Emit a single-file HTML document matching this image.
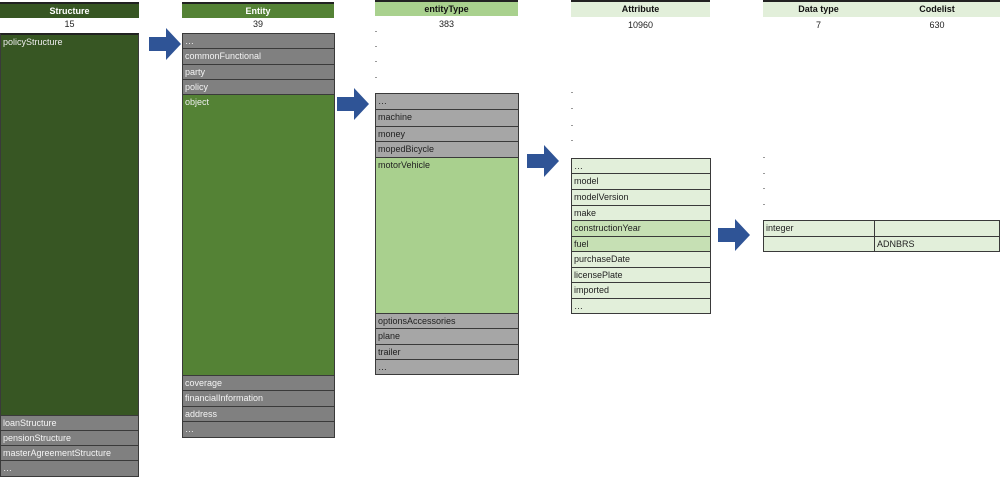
<!DOCTYPE html>
<html><head><meta charset="utf-8"><style>
body{margin:0;width:1000px;height:476px;position:relative;background:#fff;overflow:hidden;font-family:"Liberation Sans",sans-serif;}
div{position:absolute;box-sizing:border-box;}
.h{font-weight:bold;font-size:9px;text-align:center;line-height:14px;color:#111;border-top:2px solid #222;}
.n{font-size:9px;text-align:center;color:#222;}
.r{font-size:9px;line-height:14px;padding-left:2px;border:1px solid #3a3a3a;white-space:nowrap;overflow:hidden;}
.dw{background:#808080;color:#f4f4f4;}
.lg{background:#a6a6a6;color:#222;}
.lt{background:#e2efda;color:#222;}
.md{background:#c6e0b4;color:#222;}
.dot{width:2px;height:1px;background:#999;}
</style></head><body>
<!-- Structure -->
<div class="h" style="left:0;top:2px;width:139px;height:16px;background:#375623;color:#fff">Structure</div>
<div class="n" style="left:0;top:19px;width:139px">15</div>
<div class="r" style="left:0;top:33px;width:139px;height:383px;background:#375623;color:#eee;border-top:2px solid #222">policyStructure</div>
<div class="r dw" style="left:0;top:415px;width:139px;height:16px">loanStructure</div>
<div class="r dw" style="left:0;top:430px;width:139px;height:16px">pensionStructure</div>
<div class="r dw" style="left:0;top:445px;width:139px;height:16px">masterAgreementStructure</div>
<div class="r dw" style="left:0;top:460px;width:139px;height:17px">…</div>
<!-- Entity -->
<div class="h" style="left:182px;top:2px;width:152px;height:16px;background:#548235;color:#fff">Entity</div>
<div class="n" style="left:182px;top:19px;width:152px">39</div>
<div class="r dw" style="left:182px;top:33px;width:153px;height:16px">…</div>
<div class="r dw" style="left:182px;top:48px;width:153px;height:17px">commonFunctional</div>
<div class="r dw" style="left:182px;top:64px;width:153px;height:16px">party</div>
<div class="r dw" style="left:182px;top:79px;width:153px;height:16px">policy</div>
<div class="r" style="left:182px;top:94px;width:153px;height:282px;background:#548235;color:#eee">object</div>
<div class="r dw" style="left:182px;top:375px;width:153px;height:16px">coverage</div>
<div class="r dw" style="left:182px;top:390px;width:153px;height:17px">financialInformation</div>
<div class="r dw" style="left:182px;top:406px;width:153px;height:16px">address</div>
<div class="r dw" style="left:182px;top:421px;width:153px;height:17px">…</div>
<!-- entityType -->
<div class="h" style="left:375px;top:0;width:143px;height:16px;background:#a9d18e">entityType</div>
<div class="n" style="left:375px;top:19px;width:143px">383</div>
<div class="dot" style="left:375px;top:31px"></div><div class="dot" style="left:375px;top:46px"></div><div class="dot" style="left:375px;top:61px"></div><div class="dot" style="left:375px;top:77px"></div>
<div class="r lg" style="left:375px;top:93px;width:144px;height:17px">…</div>
<div class="r lg" style="left:375px;top:109px;width:144px;height:18px">machine</div>
<div class="r lg" style="left:375px;top:126px;width:144px;height:16px">money</div>
<div class="r lg" style="left:375px;top:141px;width:144px;height:17px">mopedBicycle</div>
<div class="r" style="left:375px;top:157px;width:144px;height:157px;background:#a9d08e;color:#222">motorVehicle</div>
<div class="r lg" style="left:375px;top:313px;width:144px;height:16px">optionsAccessories</div>
<div class="r lg" style="left:375px;top:328px;width:144px;height:17px">plane</div>
<div class="r lg" style="left:375px;top:344px;width:144px;height:16px">trailer</div>
<div class="r lg" style="left:375px;top:359px;width:144px;height:16px">…</div>
<!-- Attribute -->
<div class="h" style="left:571px;top:0;width:139px;height:17px;background:#e2efda">Attribute</div>
<div class="n" style="left:571px;top:20px;width:139px">10960</div>
<div class="dot" style="left:571px;top:92px"></div><div class="dot" style="left:571px;top:108px"></div><div class="dot" style="left:571px;top:125px"></div><div class="dot" style="left:571px;top:140px"></div>
<div class="r lt" style="left:571px;top:158px;width:140px;height:16px">…</div>
<div class="r lt" style="left:571px;top:173px;width:140px;height:17px">model</div>
<div class="r lt" style="left:571px;top:189px;width:140px;height:17px">modelVersion</div>
<div class="r lt" style="left:571px;top:205px;width:140px;height:16px">make</div>
<div class="r md" style="left:571px;top:220px;width:140px;height:17px">constructionYear</div>
<div class="r md" style="left:571px;top:236px;width:140px;height:16px">fuel</div>
<div class="r lt" style="left:571px;top:251px;width:140px;height:17px">purchaseDate</div>
<div class="r lt" style="left:571px;top:267px;width:140px;height:16px">licensePlate</div>
<div class="r lt" style="left:571px;top:282px;width:140px;height:17px">imported</div>
<div class="r lt" style="left:571px;top:298px;width:140px;height:16px">…</div>
<!-- Data type / Codelist -->
<div class="h" style="left:763px;top:0;width:111px;height:17px;background:#e2efda">Data type</div>
<div class="h" style="left:874px;top:0;width:126px;height:17px;background:#e2efda">Codelist</div>
<div class="n" style="left:763px;top:20px;width:111px">7</div>
<div class="n" style="left:874px;top:20px;width:126px">630</div>
<div class="dot" style="left:763px;top:157px"></div><div class="dot" style="left:763px;top:173px"></div><div class="dot" style="left:763px;top:188px"></div><div class="dot" style="left:763px;top:204px"></div>
<div class="r lt" style="left:763px;top:220px;width:112px;height:17px">integer</div>
<div class="r lt" style="left:874px;top:220px;width:126px;height:17px"></div>
<div class="r lt" style="left:763px;top:236px;width:112px;height:16px"></div>
<div class="r lt" style="left:874px;top:236px;width:126px;height:16px">ADNBRS</div>
<!-- arrows -->
<svg width="1000" height="476" style="position:absolute;left:0;top:0">
<g fill="#2f5496">
<polygon points="149,37 166,37 166,28 181,44 166,60 166,51 149,51"/>
<polygon points="337,97 354,97 354,88 369,104 354,120 354,111 337,111"/>
<polygon points="527,154 544,154 544,145 559,161 544,177 544,168 527,168"/>
<polygon points="718,228 735,228 735,219 750,235 735,251 735,242 718,242"/>
</g></svg>
</body></html>
